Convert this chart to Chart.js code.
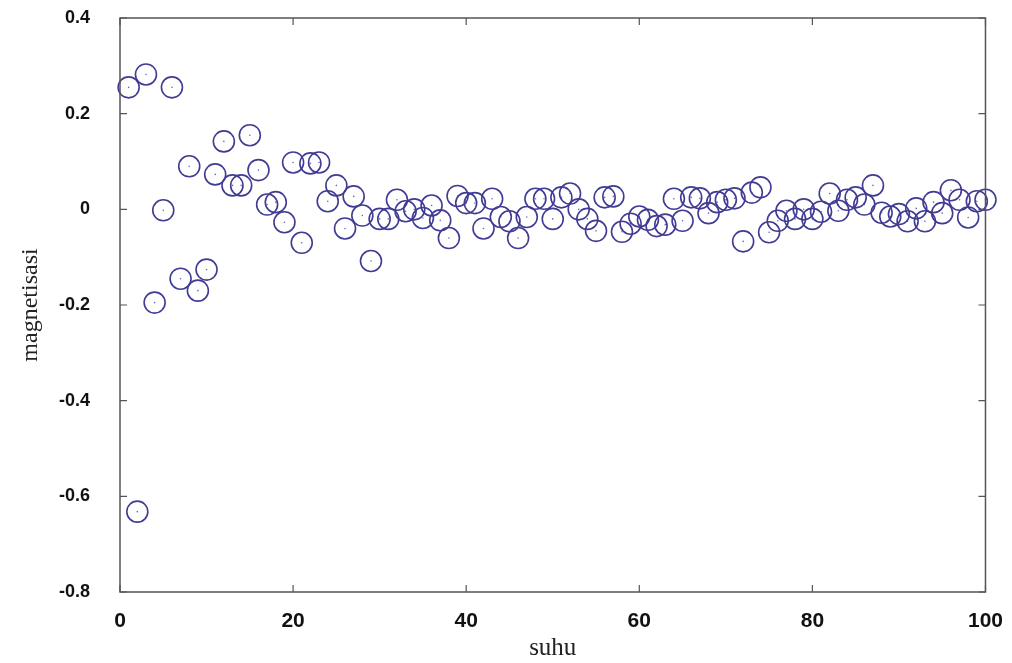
<!DOCTYPE html>
<html>
<head>
    <title>magnetisasi vs suhu</title>
    <script src="https://cdn.jsdelivr.net/npm/chart.js@4.4.1/dist/chart.umd.min.js"></script>
    <style>
        body { margin: 0; padding: 0; background: #fff; overflow: hidden; }
        #wrap { width: 1012px; height: 663px; }
    </style>
</head>
<body>
<div id="wrap"><canvas id="grafik"></canvas></div>
<script>
    // suhu 1..100
    const suhu = [];
    for (let i = 1; i <= 100; i++) suhu.push(i);

    const magnetisasi = [
        0.255, -0.632, 0.282, -0.195, -0.002, 0.255, -0.145, 0.09, -0.17, -0.126,
        0.073, 0.142, 0.05, 0.05, 0.155, 0.082, 0.01, 0.015, -0.027, 0.098,
        -0.07, 0.096, 0.098, 0.017, 0.05, -0.04, 0.027, -0.013, -0.108, -0.02,
        -0.02, 0.02, -0.004, 0.0, -0.018, 0.008, -0.023, -0.06, 0.028, 0.013,
        0.013, -0.04, 0.022, -0.016, -0.025, -0.06, -0.016, 0.022, 0.022, -0.02,
        0.025, 0.033, 0.0, -0.02, -0.045, 0.025, 0.027, -0.047, -0.03, -0.015,
        -0.022, -0.035, -0.032, 0.022, -0.024, 0.025, 0.023, -0.008, 0.015, 0.02,
        0.023, -0.067, 0.035, 0.046, -0.048, -0.024, -0.003, -0.02, 0.0, -0.02,
        -0.005, 0.033, -0.003, 0.02, 0.025, 0.01, 0.05, -0.007, -0.015, -0.01,
        -0.025, 0.002, -0.025, 0.015, -0.008, 0.04, 0.02, -0.017, 0.017, 0.02
    ];

    const xTicks = [0, 20, 40, 60, 80, 100];
    const yTicks = [-0.8, -0.6, -0.4, -0.2, 0, 0.2, 0.4];

    const titik = suhu.map((s, i) => ({ x: s, y: magnetisasi[i] }));
    const warna = '#403c94';

    // kotak dan tick ke dalam di keempat sisi
    const bingkai = {
        id: 'bingkai',
        afterDraw(chart) {
            const { ctx, chartArea: a, scales } = chart;
            ctx.save();
            ctx.strokeStyle = '#555';
            ctx.lineWidth = 1.5;
            ctx.strokeRect(a.left, a.top, a.right - a.left, a.bottom - a.top);
            ctx.lineWidth = 1.2;
            const t = 7;
            ctx.beginPath();
            xTicks.forEach(v => {
                const px = scales.x.getPixelForValue(v);
                ctx.moveTo(px, a.bottom); ctx.lineTo(px, a.bottom - t);
                ctx.moveTo(px, a.top); ctx.lineTo(px, a.top + t);
            });
            yTicks.forEach(v => {
                const py = scales.y.getPixelForValue(v);
                ctx.moveTo(a.left, py); ctx.lineTo(a.left + t, py);
                ctx.moveTo(a.right, py); ctx.lineTo(a.right - t, py);
            });
            ctx.stroke();
            ctx.restore();
        }
    };

    new Chart(document.getElementById('grafik'), {
        type: 'scatter',
        data: {
            datasets: [{
                data: titik,
                clip: false,
                pointStyle: 'circle',
                pointRadius: 10.5,
                pointBorderWidth: 1.6,
                borderColor: warna,
                backgroundColor: 'rgba(255,255,255,0)'
            }, {
                // titik kecil di tengah lingkaran
                data: titik,
                clip: false,
                pointRadius: 0.8,
                pointBorderWidth: 0,
                backgroundColor: '#6a66b0'
            }]
        },
        options: {
            responsive: true,
            maintainAspectRatio: false,
            animation: false,
            layout: { padding: { left: 0, top: 18, right: 20, bottom: 0 } },
            plugins: { legend: { display: false }, tooltip: { enabled: false } },
            scales: {
                x: {
                    type: 'linear',
                    min: 0, max: 100,
                    afterFit: s => { s.height = 71; },
                    afterBuildTicks: s => { s.ticks = xTicks.map(v => ({ value: v })); },
                    grid: { display: false },
                    border: { display: false },
                    ticks: {
                        padding: 9,
                        color: '#111',
                        font: { family: "'Liberation Sans Narrow', 'Liberation Sans', Arial", size: 21, weight: 'bold' }
                    },
                    title: {
                        display: true,
                        text: 'suhu',
                        color: '#222',
                        padding: { top: -2, bottom: 0 },
                        font: { family: "'Liberation Serif', 'DejaVu Serif', serif", size: 25 }
                    }
                },
                y: {
                    min: -0.8, max: 0.4,
                    afterFit: s => { s.width = 120; s.paddingTop = 0; s.paddingBottom = 0; },
                    afterBuildTicks: s => { s.ticks = yTicks.map(v => ({ value: v })); },
                    grid: { display: false },
                    border: { display: false },
                    ticks: {
                        padding: 22,
                        color: '#111',
                        font: { family: "'Liberation Sans', Arial", size: 18, weight: 'bold' },
                        callback: v => (Math.abs(v) < 1e-9 ? '0' : String(Math.round(v * 10) / 10))
                    },
                    title: {
                        display: true,
                        text: 'magnetisasi',
                        color: '#222',
                        padding: { top: 16, bottom: 0 },
                        font: { family: "'Liberation Serif', 'DejaVu Serif', serif", size: 24 }
                    }
                }
            }
        },
        plugins: [bingkai]
    });
</script>
</body>
</html>
